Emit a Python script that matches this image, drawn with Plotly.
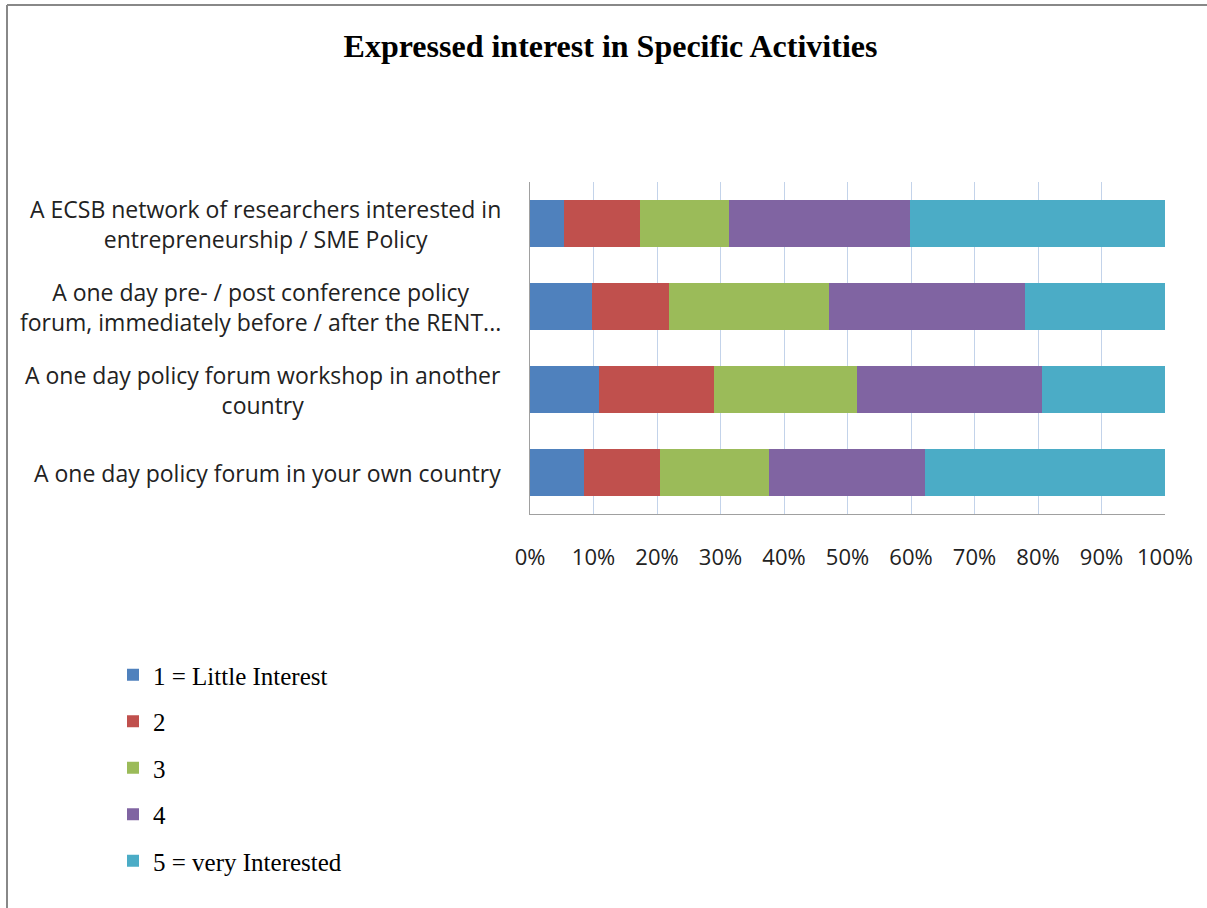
import plotly.graph_objects as go

categories = [
    "A ECSB network of researchers interested in<br>entrepreneurship / SME Policy",
    "A one day pre- / post conference policy<br>forum, immediately before / after the RENT...",
    "A one day policy forum workshop in another<br>country",
    "A one day policy forum in your own country",
]
cat_keys = ["c1", "c2", "c3", "c4"]

series_names = ["1 = Little Interest", "2", "3", "4", "5 = very Interested"]
series_values = [
    [5.4, 9.8, 10.8, 8.5],
    [11.9, 12.1, 18.2, 11.9],
    [14.1, 25.2, 22.5, 17.2],
    [28.4, 30.8, 29.1, 24.6],
    [40.2, 22.1, 19.4, 37.8],
]
colors = ["#4F81BD", "#C0504D", "#9BBB59", "#8064A2", "#4BACC6"]
tick_vals = [0, 10, 20, 30, 40, 50, 60, 70, 80, 90, 100]
tick_text = [f"{v}%" for v in tick_vals]

fig = go.Figure()
for name, vals, col in zip(series_names, series_values, colors):
    fig.add_trace(go.Bar(
        x=vals, y=cat_keys, orientation="h", name=name,
        marker=dict(color=col, line=dict(width=0)),
        legendgroup=name,
    ))

annotations = []
for key, label in zip(cat_keys, categories):
    annotations.append(dict(
        x=0, xref="paper", xanchor="right", xshift=-27,
        y=key, yref="y", yanchor="middle",
        text=label, showarrow=False, align="center",
        font=dict(family="Open Sans", size=23, color="#222222"),
    ))

fig.update_layout(
    width=1207, height=908,
    barmode="stack", bargap=0.43,
    paper_bgcolor="white", plot_bgcolor="white",
    margin=dict(l=530, r=42, t=182, b=394),
    title=dict(text="<b>Expressed interest in Specific Activities</b>",
               x=(345 + 876) / 2 / 1207, xref="container", xanchor="center",
               y=1 - 46 / 908, yref="container", yanchor="middle",
               font=dict(family="Liberation Serif", size=32, color="black")),
    xaxis=dict(range=[0, 100], tickvals=tick_vals, ticktext=tick_text,
               showgrid=True, gridcolor="#C3D3EA", gridwidth=1,
               showline=True, linecolor="#A0A0A0", linewidth=1,
               ticks="", zeroline=False, ticklabelstandoff=24,
               tickfont=dict(family="Open Sans", size=22, color="#222222"),
               fixedrange=True),
    yaxis=dict(autorange="reversed", showticklabels=False, showgrid=False,
               showline=True, linecolor="#A0A0A0", linewidth=1,
               ticks="", fixedrange=True),
    legend=dict(xref="container", yref="container", x=113 / 1207,
                y=1 - 652 / 908, xanchor="left", yanchor="top",
                traceorder="grouped", tracegroupgap=11,
                font=dict(family="Liberation Serif", size=25, color="black"),
                itemwidth=30),
    annotations=annotations,
    showlegend=True,
)

# outer chart border (top and left edges visible)
fig.add_shape(type="line", xref="paper", yref="paper",
              x0=(7 - 530) / 635, x1=(1207 - 530) / 635,
              y0=(514 - 5) / 332, y1=(514 - 5) / 332,
              line=dict(color="#888888", width=2))
fig.add_shape(type="line", xref="paper", yref="paper",
              x0=(7 - 530) / 635, x1=(7 - 530) / 635,
              y0=(514 - 5) / 332, y1=(514 - 908) / 332,
              line=dict(color="#888888", width=2))

fig.write_html("out.html", config={"displayModeBar": False},
               post_script="document.body.style.margin='0';")
